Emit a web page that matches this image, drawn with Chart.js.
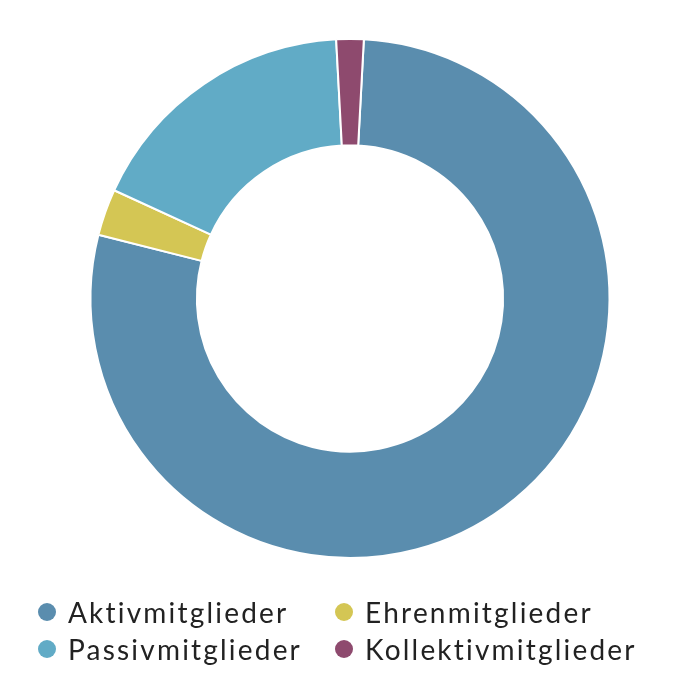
<!DOCTYPE html>
<html>
<head>
<meta charset="utf-8">
<script src="https://cdn.jsdelivr.net/npm/chart.js@4/dist/chart.umd.min.js"></script>
<style>
  html, body { margin: 0; padding: 0; background: #ffffff; }
  #wrap { position: relative; width: 700px; height: 700px; }
  #chartBox { position: absolute; left: 0; top: 0; width: 700px; height: 596px; }
  #legend { position: absolute; left: 0; top: 0; width: 700px; height: 700px; font-family: Lato, "Open Sans", sans-serif; font-size: 28px; line-height: 34px; color: #222; letter-spacing: 2.2px; }
  .item { position: absolute; display: flex; align-items: center; white-space: nowrap; height: 34px; }
  .dot { width: 18px; height: 18px; border-radius: 50%; margin-right: 12px; flex: none; }
</style>
</head>
<body>
<div id="wrap">
  <div id="chartBox"><canvas id="c"></canvas></div>
  <div id="legend"></div>
</div>
<script>
const categories = ["Aktivmitglieder", "Ehrenmitglieder", "Passivmitglieder", "Kollektivmitglieder"];
const shares = [78.1, 2.9, 17.3, 1.7];
const colors = ["#5a8dae", "#d4c654", "#61abc6", "#8e4a6e"];

const total = shares.reduce((a, b) => a + b, 0);
const rotationDeg = (shares[3] / 2) / total * 360;

new Chart(document.getElementById("c"), {
  type: "doughnut",
  data: {
    labels: categories,
    datasets: [{
      data: shares,
      backgroundColor: colors,
      borderColor: "#ffffff",
      borderWidth: 2,
      hoverOffset: 0
    }]
  },
  options: {
    responsive: true,
    maintainAspectRatio: false,
    animation: false,
    cutout: "59%",
    rotation: rotationDeg,
    layout: { padding: { top: 38, bottom: 37 } },
    plugins: {
      legend: { display: false },
      tooltip: { enabled: false }
    }
  }
});

const legend = document.getElementById("legend");
const cols = [38, 335];
const rows = [595, 632];
categories.forEach((name, i) => {
  const it = document.createElement("div");
  it.className = "item";
  it.style.left = cols[i % 2] + "px";
  it.style.top = rows[Math.floor(i / 2)] + "px";
  const d = document.createElement("span");
  d.className = "dot";
  d.style.background = colors[i];
  const t = document.createElement("span");
  t.textContent = name;
  it.appendChild(d);
  it.appendChild(t);
  legend.appendChild(it);
});
</script>
</body>
</html>
